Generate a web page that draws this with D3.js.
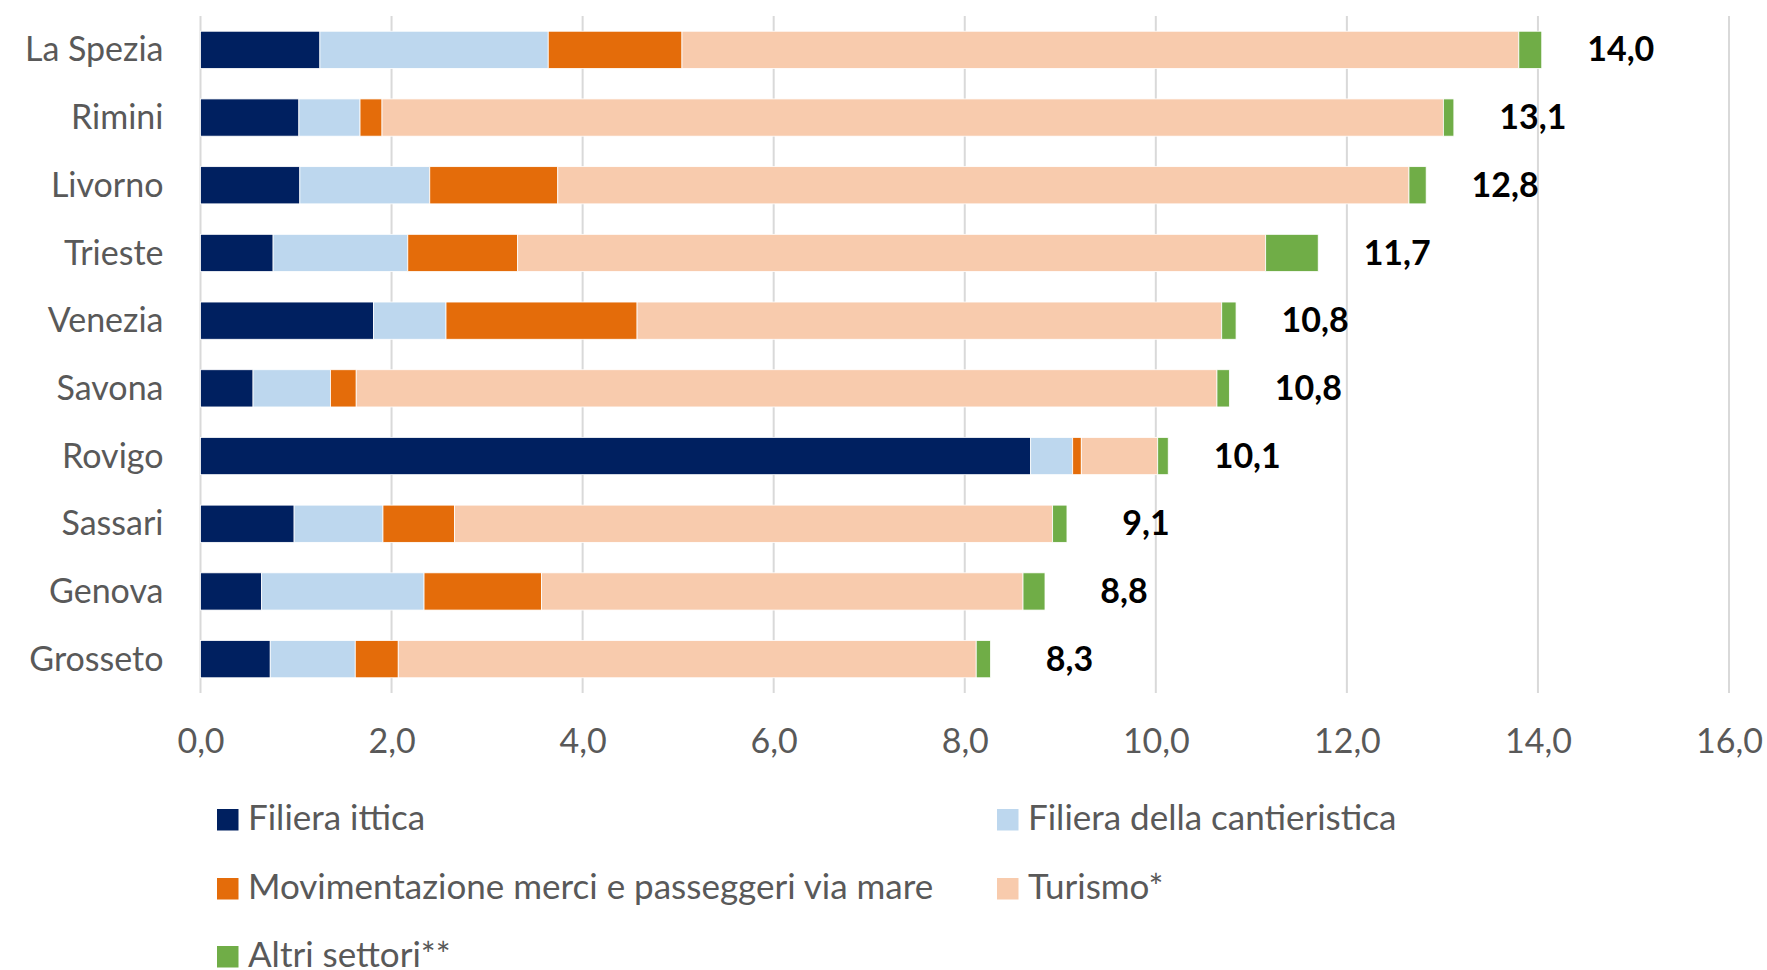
<!DOCTYPE html>
<html>
<head>
<meta charset="utf-8">
<script src="https://cdn.jsdelivr.net/npm/d3@7"></script>
<style>
  body { margin: 0; background: #fff; }
  text { font-family: Lato, "Open Sans", sans-serif; }
</style>
</head>
<body>
<div id="chart"></div>
<script>
// Categories (top to bottom) and series values
var categories = ["La Spezia", "Rimini", "Livorno", "Trieste", "Venezia", "Savona", "Rovigo", "Sassari", "Genova", "Grosseto"];
var seriesNames = ["Filiera ittica", "Filiera della cantieristica", "Movimentazione merci e passeggeri via mare", "Turismo*", "Altri settori**"];
var ittica = [1.25, 1.03, 1.04, 0.76, 1.81, 0.55, 8.69, 0.98, 0.64, 0.73];
var cantieristica = [2.39, 0.64, 1.36, 1.41, 0.76, 0.81, 0.44, 0.93, 1.70, 0.89];
var movimentazione = [1.40, 0.23, 1.34, 1.15, 2.00, 0.27, 0.09, 0.75, 1.23, 0.45];
var turismo = [8.76, 11.11, 8.91, 7.83, 6.12, 9.01, 0.80, 6.26, 5.04, 6.05];
var altri = [0.24, 0.11, 0.18, 0.55, 0.15, 0.13, 0.11, 0.15, 0.23, 0.15];
var xTicks = [0, 2, 4, 6, 8, 10, 12, 14, 16];

var colors = ["#002060", "#BDD7EE", "#E46C0A", "#F8CBAD", "#70AD47"];

// svg size
var svgWidth = 1767;
var svgHeight = 970;

var svg = d3.select("#chart")
  .append("svg")
  .attr("width", svgWidth)
  .attr("height", svgHeight);

// build rows for the stack
var keys = ["s0", "s1", "s2", "s3", "s4"];
var allSeries = [ittica, cantieristica, movimentazione, turismo, altri];
var rows = categories.map(function(c, i) {
  var r = { cat: c };
  keys.forEach(function(k, j) { r[k] = allSeries[j][i]; });
  r.total = d3.sum(allSeries, function(s) { return s[i]; });
  return r;
});

var stacked = d3.stack().keys(keys)(rows);

// scales
var xScale = d3.scaleLinear()
  .domain([0, 16])
  .range([200.5, 1729]);

var yScale = d3.scaleBand()
  .domain(categories)
  .range([16, 693])
  .paddingInner(0.45)
  .paddingOuter(0.225);

var itLocale = d3.formatLocale({ decimal: ",", thousands: ".", grouping: [3], currency: ["€", ""] });
var fmt = itLocale.format(".1f");

// gridlines (including the 0 line)
svg.append("g")
  .selectAll("line")
  .data(xTicks)
  .enter()
  .append("line")
  .attr("x1", d => xScale(d))
  .attr("x2", d => xScale(d))
  .attr("y1", 16)
  .attr("y2", 693)
  .attr("stroke", "#D9D9D9")
  .attr("stroke-width", 2);

// bottom axis labels
var bottomAxis = d3.axisBottom(xScale)
  .tickValues(xTicks)
  .tickFormat(fmt)
  .tickSize(0)
  .tickPadding(0);

var xAxisG = svg.append("g")
  .attr("transform", "translate(0, 693)")
  .call(bottomAxis);
xAxisG.select(".domain").remove();
xAxisG.selectAll("text")
  .attr("y", 60)
  .attr("dy", null)
  .attr("fill", "#595959")
  .style("font-size", "34px");

// left axis (category names)
var leftAxis = d3.axisLeft(yScale).tickSize(0).tickPadding(37);
var yAxisG = svg.append("g")
  .attr("transform", "translate(200.5, 0)")
  .call(leftAxis);
yAxisG.select(".domain").remove();
yAxisG.selectAll("text")
  .attr("fill", "#595959")
  .attr("dy", "0.34em")
  .style("font-size", "34px");

// stacked bars
svg.append("g")
  .selectAll("g")
  .data(stacked)
  .enter()
  .append("g")
  .attr("fill", (d, i) => colors[i])
  .selectAll("rect")
  .data(d => d)
  .enter()
  .append("rect")
  .attr("x", d => xScale(d[0]))
  .attr("width", d => xScale(d[1]) - xScale(d[0]))
  .attr("y", d => yScale(d.data.cat))
  .attr("height", yScale.bandwidth())
  .attr("stroke", "#ffffff")
  .attr("stroke-width", 0.8);

// total labels
svg.append("g")
  .selectAll("text")
  .data(rows)
  .enter()
  .append("text")
  .attr("x", d => xScale(d.total) + 79)
  .attr("y", d => yScale(d.cat) + yScale.bandwidth() / 2)
  .attr("dy", "0.34em")
  .attr("text-anchor", "middle")
  .attr("font-weight", "bold")
  .attr("fill", "#000")
  .style("font-size", "34px")
  .text(d => fmt(d.total));

// legend: two columns, three rows
var legendPos = [[217, 809], [997, 809], [217, 878], [997, 878], [217, 946]];
var legend = svg.append("g")
  .selectAll("g")
  .data(seriesNames)
  .enter()
  .append("g")
  .attr("transform", (d, i) => `translate(${legendPos[i][0]}, ${legendPos[i][1]})`);

legend.append("rect")
  .attr("width", 21.5)
  .attr("height", 21.5)
  .attr("fill", (d, i) => colors[i]);

legend.append("text")
  .attr("x", 31)
  .attr("y", 21)
  .attr("fill", "#595959")
  .style("font-size", "35px")
  .text(d => d);
</script>
</body>
</html>
